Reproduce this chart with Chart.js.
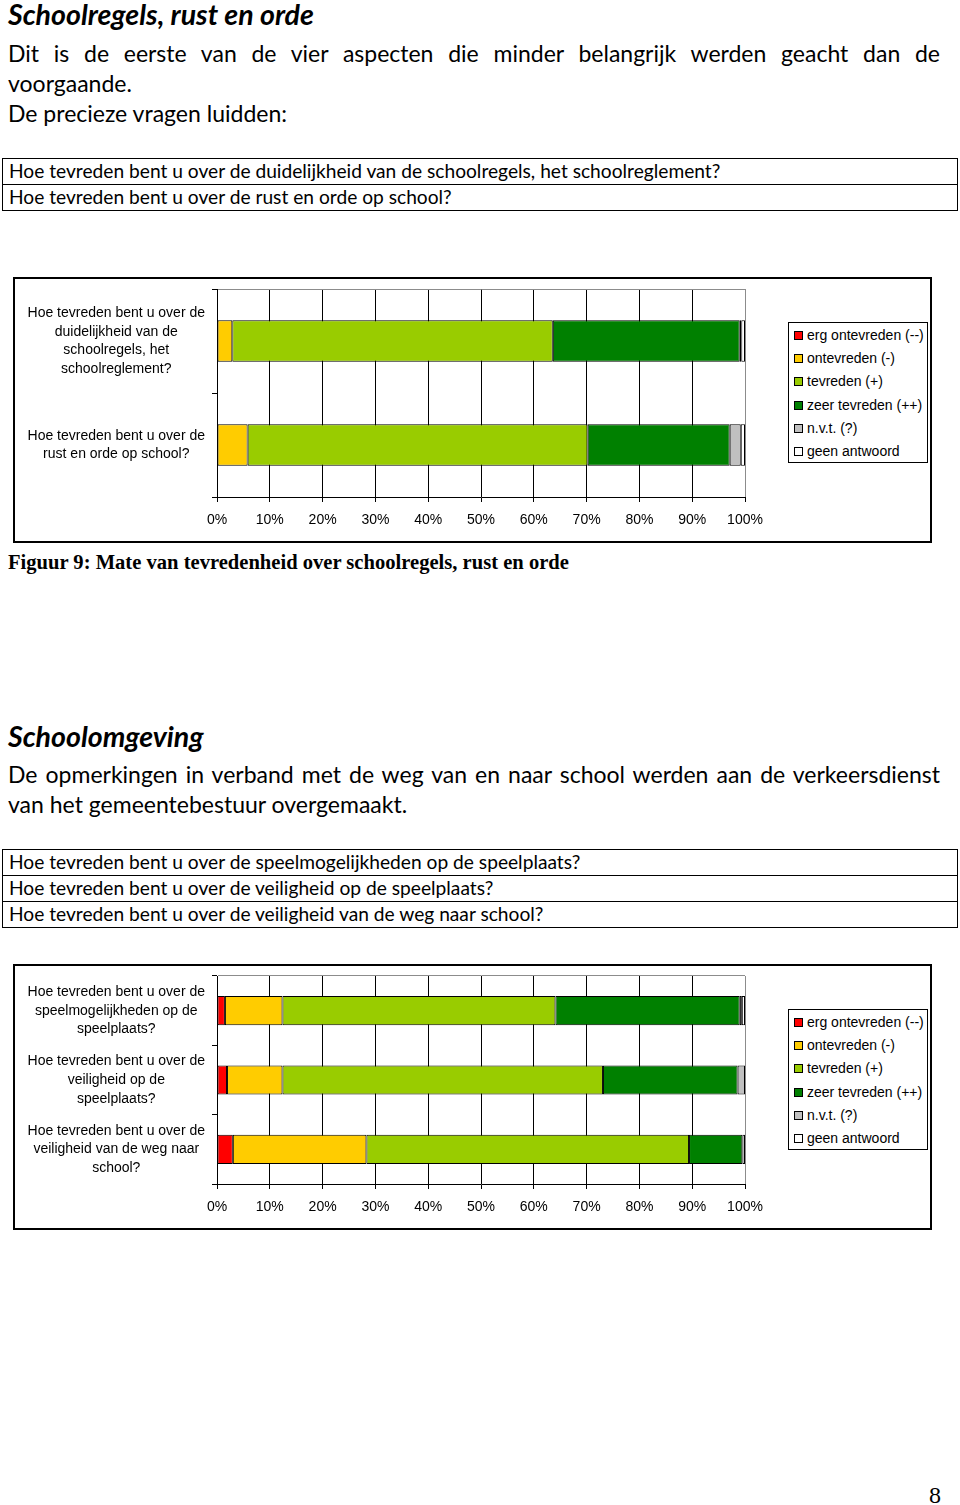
<!DOCTYPE html>
<html lang="nl">
<head>
<meta charset="UTF-8">
<title>Schoolregels, rust en orde</title>
<script src="https://cdn.jsdelivr.net/npm/chart.js"></script>
<style>
    body {
        margin: 0;
        width: 960px;
        height: 1505px;
        position: relative;
        overflow: hidden;
        background: #fff;
        color: #000;
        font-family: Lato, "Open Sans", sans-serif;
    }
    .t { position: absolute; left: 8px; white-space: nowrap; }
    .kop { font-weight: 700; font-style: italic; font-size: 26px; line-height: 30px; }
    .tekst { font-size: 21px; line-height: 30px; }
    .just { width: 932px; text-align: justify; text-align-last: justify; }
    .vragen { position: absolute; left: 2px; width: 954px; border: 1px solid #000; }
    .vragen div { height: 25px; line-height: 24px; padding-left: 6px; border-top: 1px solid #000; white-space: nowrap; }
    .vragen div:first-child { border-top: none; }
    .vragen span { font-size: 18px; }
    .grafiek { position: absolute; left: 13px; width: 915px; height: 262px; border: 2px solid #000; }
    .grafiek canvas { position: absolute; left: 0; top: 0; }
    .legende { position: absolute; left: 788px; width: 138px; border: 1px solid #000; font-family: "Liberation Sans", Arial, sans-serif; font-size: 14px; background: #fff; }
    .legende div { height: 23.2px; line-height: 24px; padding-left: 5px; white-space: nowrap; }
    .legende i { display: inline-block; width: 7px; height: 7px; border: 1px solid #000; margin-right: 4px; vertical-align: 0px; }
    .bijschrift { font-family: "Liberation Serif", "Times New Roman", serif; font-weight: 700; font-size: 19px; line-height: 24px; }
    .paginanr { position: absolute; left: 929px; top: 1481px; font-family: "Liberation Serif", serif; font-size: 24px; line-height: 28px; }
</style>
</head>
<body>
    <div class="t kop" id="kop1" style="top:-1px">Schoolregels, rust en orde</div>
    <div class="t tekst just" style="top:38px">Dit is de eerste van de vier aspecten die minder belangrijk werden geacht dan de</div>
    <div class="t tekst" style="top:68px">voorgaande.</div>
    <div class="t tekst" id="meet" style="top:98px">De precieze vragen luidden:</div>

    <div class="vragen" style="top:158px">
        <div><span id="meetVraag">Hoe tevreden bent u over de duidelijkheid van de schoolregels, het schoolreglement?</span></div>
        <div><span>Hoe tevreden bent u over de rust en orde op school?</span></div>
    </div>

    <div class="grafiek" style="top:277px"><canvas id="grafiek1" width="915" height="262"></canvas></div>
    <div class="legende" id="legende1" style="top:322px"></div>

    <div class="t bijschrift" id="bijschrift" style="top:550px">Figuur 9: Mate van tevredenheid over schoolregels, rust en orde</div>

    <div class="t kop" style="top:721px">Schoolomgeving</div>
    <div class="t tekst just" style="top:759px">De opmerkingen in verband met de weg van en naar school werden aan de verkeersdienst</div>
    <div class="t tekst" style="top:789px">van het gemeentebestuur overgemaakt.</div>

    <div class="vragen" style="top:849px">
        <div><span>Hoe tevreden bent u over de speelmogelijkheden op de speelplaats?</span></div>
        <div><span>Hoe tevreden bent u over de veiligheid op de speelplaats?</span></div>
        <div><span>Hoe tevreden bent u over de veiligheid van de weg naar school?</span></div>
    </div>

    <div class="grafiek" style="top:964px"><canvas id="grafiek2" width="915" height="262"></canvas></div>
    <div class="legende" id="legende2" style="top:1009px"></div>

    <div class="paginanr">8</div>

<script>
    // Antwoordcategorieën (reeksen)
    const reeksen = ['erg ontevreden (--)', 'ontevreden (-)', 'tevreden (+)', 'zeer tevreden (++)', 'n.v.t. (?)', 'geen antwoord'];
    const kleuren = ['#ff0000', '#ffcc00', '#99cc00', '#008000', '#c0c0c0', '#ffffff'];
    const xTicks = [0, 10, 20, 30, 40, 50, 60, 70, 80, 90, 100];

    // Figuur 9: schoolregels, rust en orde (percentages)
    const vragen1 = [
        ['Hoe tevreden bent u over de', 'duidelijkheid van de', 'schoolregels, het', 'schoolreglement?'],
        ['Hoe tevreden bent u over de', 'rust en orde op school?']
    ];
    const ergOntevreden1 = [0, 0];
    const ontevreden1 = [2.9, 5.8];
    const tevreden1 = [60.7, 64.4];
    const zeerTevreden1 = [35.4, 26.9];
    const nvt1 = [0.3, 2.1];
    const geenAntwoord1 = [0.7, 0.8];

    // Schoolomgeving (percentages)
    const vragen2 = [
        ['Hoe tevreden bent u over de', 'speelmogelijkheden op de', 'speelplaats?'],
        ['Hoe tevreden bent u over de', 'veiligheid op de', 'speelplaats?'],
        ['Hoe tevreden bent u over de', 'veiligheid van de weg naar', 'school?']
    ];
    const ergOntevreden2 = [1.5, 1.9, 3.0];
    const ontevreden2 = [10.9, 10.5, 25.3];
    const tevreden2 = [51.7, 60.7, 61.1];
    const zeerTevreden2 = [34.9, 25.5, 10.1];
    const nvt2 = [0.4, 1.4, 0.5];
    const geenAntwoord2 = [0.6, 0, 0];

    // tekstgroottes afstemmen op de breedtes in het origineel
    function grootte(el, breedte) {
        const fs = parseFloat(getComputedStyle(el).fontSize);
        return fs * breedte / el.getBoundingClientRect().width;
    }
    const kopGrootte = grootte(document.getElementById('kop1'), 306);
    document.querySelectorAll('.kop').forEach(el => el.style.fontSize = kopGrootte + 'px');
    const tekstGrootte = grootte(document.getElementById('meet'), 279);
    document.querySelectorAll('.tekst').forEach(el => el.style.fontSize = tekstGrootte + 'px');
    const vraagGrootte = grootte(document.getElementById('meetVraag'), 712);
    document.querySelectorAll('.vragen span').forEach(el => el.style.fontSize = vraagGrootte + 'px');
    const bs = document.getElementById('bijschrift');
    bs.style.fontSize = grootte(bs, 561) + 'px';

    Chart.defaults.color = '#000';
    Chart.defaults.font.family = '"Liberation Sans", Arial, sans-serif';
    Chart.defaults.font.size = 14;

    function legende(id) {
        const el = document.getElementById(id);
        reeksen.forEach((naam, i) => {
            const rij = document.createElement('div');
            rij.innerHTML = '<i style="background:' + kleuren[i] + '"></i>' + naam;
            el.appendChild(rij);
        });
    }

    function grafiek(id, labels, waarden, dikte) {
        new Chart(document.getElementById(id), {
            type: 'bar',
            data: {
                labels: labels,
                datasets: waarden.map((data, i) => ({
                    label: reeksen[i],
                    data: data,
                    backgroundColor: kleuren[i],
                    borderColor: '#000',
                    borderWidth: 1,
                    borderSkipped: false,
                    categoryPercentage: 1,
                    barPercentage: dikte
                }))
            },
            options: {
                indexAxis: 'y',
                responsive: false,
                animation: false,
                layout: { padding: { top: 10, right: 185, left: 0, bottom: 0 } },
                plugins: { legend: { display: false }, tooltip: { enabled: false } },
                scales: {
                    x: {
                        stacked: true,
                        min: 0,
                        max: 100,
                        afterBuildTicks: s => { s.ticks = xTicks.map(v => ({ value: v })); },
                        ticks: { callback: v => v + '%', padding: 10, maxRotation: 0, autoSkip: false },
                        grid: {
                            color: c => (c.tick && c.tick.value === 100) ? '#8c8c8c' : '#000',
                            tickColor: '#000',
                            tickLength: 5
                        },
                        border: { color: '#000' },
                        afterFit: s => { s.height = 44; s.paddingLeft = 0; s.paddingRight = 0; }
                    },
                    y: {
                        stacked: true,
                        ticks: { crossAlign: 'center', padding: 7, font: { lineHeight: 1.335 } },
                        grid: {
                            offset: true,
                            color: c => c.index === 0 ? '#8c8c8c' : 'rgba(0,0,0,0)',
                            tickColor: '#000',
                            tickLength: 5
                        },
                        border: { color: '#000' },
                        afterFit: s => { s.width = 202; s.paddingTop = 0; s.paddingBottom = 0; }
                    }
                }
            }
        });
    }

    legende('legende1');
    legende('legende2');
    grafiek('grafiek1', vragen1, [ergOntevreden1, ontevreden1, tevreden1, zeerTevreden1, nvt1, geenAntwoord1], 0.4);
    grafiek('grafiek2', vragen2, [ergOntevreden2, ontevreden2, tevreden2, zeerTevreden2, nvt2, geenAntwoord2], 0.42);
</script>
</body>
</html>
